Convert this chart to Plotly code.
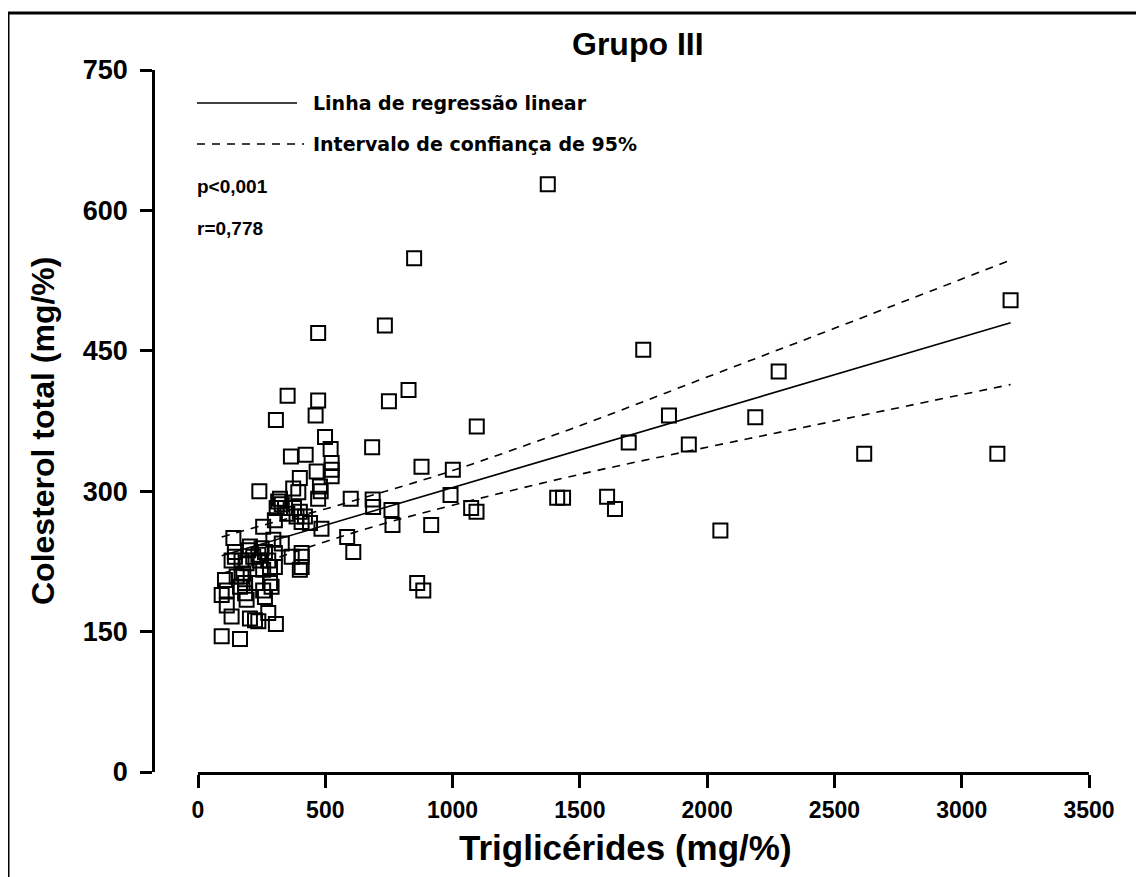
import plotly.graph_objects as go

# ---------------- data ----------------
trig_mg = [1374, 849, 734, 472, 827, 750, 1095, 352, 472, 462,
           306, 684, 499, 521, 365, 423, 525, 525, 525, 878,
           1001, 466, 400, 374, 394, 241, 479, 482, 472, 322,
           600, 686, 688, 760, 764, 992, 1073, 1094, 916, 586,
           610, 861, 885, 1411, 1434, 1749, 2281, 1850, 2189, 1692,
           1928, 2617, 3140, 3192, 1607, 1638, 2052,
           485, 440, 407, 387, 351, 309, 329, 315, 342, 377,
           400, 420, 256, 302, 296, 329, 407, 407, 400, 139,
           145, 132, 204, 217, 263, 276, 283, 302, 243, 256,
           191, 178, 106, 113, 93, 152, 165, 185, 191, 256,
           263, 289, 230, 132, 204, 237, 276, 306, 93, 165,
           113, 224, 171, 185, 283, 171, 237, 302, 145, 197,
           250, 368, 407]

col_mg = [628, 549, 477, 469, 408, 396, 369, 402, 397, 381,
          376, 347, 358, 345, 337, 339, 330, 323, 316, 326,
          323, 321, 314, 303, 299, 300, 305, 300, 292, 292,
          292, 291, 283, 280, 264, 296, 282, 278, 264, 251,
          235, 202, 194, 293, 293, 451, 428, 381, 379, 352,
          350, 340, 340, 504, 294, 281, 258,
          260, 266, 267, 273, 276, 282, 286, 289, 282, 282,
          278, 273, 262, 269, 248, 244, 230, 219, 216, 250,
          235, 226, 241, 230, 235, 226, 219, 234, 226, 216,
          223, 212, 205, 194, 189, 209, 198, 191, 184, 194,
          187, 198, 202, 166, 164, 161, 170, 158, 145, 142,
          178, 162, 209, 202, 202, 226, 232, 219, 230, 237,
          239, 230, 234]

fit_x = [93, 3192]
fit_y = [231, 480]

ci_x = [93, 300, 500, 700, 1000, 1500, 2000, 2500, 3192]
ci_upper = [251, 267, 281, 297, 322, 370, 422, 474, 547]
ci_lower = [212, 228, 246, 263, 285, 318, 347, 375, 414]

x_ticks = [0, 500, 1000, 1500, 2000, 2500, 3000, 3500]
y_ticks = [0, 150, 300, 450, 600, 750]

title_text = "Grupo III"
x_title = "Triglicérides (mg/%)"
y_title = "Colesterol total (mg/%)"
legend_solid = "Linha de regressão linear"
legend_dash = "Intervalo de confiança de 95%"
p_text = "p<0,001"
r_text = "r=0,778"

# ---------------- layout geometry ----------------
OFF = 8                      # page body margin
W, H = 1144 - OFF, 877 - OFF
ML, MT = 153 - OFF, 70 - OFF
PLOT_RIGHT, PLOT_BOTTOM = 1089 - OFF, 772 - OFF
MR, MB = W - PLOT_RIGHT, H - PLOT_BOTTOM
PW = W - ML - MR
PH = H - MT - MB
X_START_PX = 198


def pxx(px):
    return (px - OFF - ML) / PW


def pxy(py):
    return (PLOT_BOTTOM - (py - OFF)) / PH


FONT = "Liberation Sans, Arial, Helvetica, sans-serif"
DASH = "8px,7px"

fig = go.Figure()

fig.add_trace(go.Scatter(
    x=ci_x, y=ci_upper, mode="lines", line=dict(color="black", width=1.6, dash=DASH, shape="spline"),
    hoverinfo="skip"))
fig.add_trace(go.Scatter(
    x=ci_x, y=ci_lower, mode="lines", line=dict(color="black", width=1.6, dash=DASH, shape="spline"),
    hoverinfo="skip"))
fig.add_trace(go.Scatter(
    x=fit_x, y=fit_y, mode="lines", line=dict(color="black", width=1.6), hoverinfo="skip"))
fig.add_trace(go.Scatter(
    x=trig_mg, y=col_mg, mode="markers",
    marker=dict(symbol="square-open", size=14, color="black", line=dict(width=2, color="black"))))

fig.update_layout(
    width=W, height=H, showlegend=False,
    paper_bgcolor="white", plot_bgcolor="white",
    margin=dict(l=ML, r=MR, t=MT, b=MB, autoexpand=False),
    font=dict(family=FONT, color="black"),
    xaxis=dict(
        domain=[pxx(X_START_PX), 1], range=[0, 3500], tickvals=x_ticks,
        showgrid=False, zeroline=False, showline=True, linewidth=3, linecolor="black",
        ticks="outside", ticklen=13, tickwidth=2.5, tickcolor="black",
        tickfont=dict(size=23, family=FONT, weight="bold"), ticklabelstandoff=2),
    yaxis=dict(
        domain=[0, 1], range=[0, 750], tickvals=y_ticks, anchor="free", position=0,
        showgrid=False, zeroline=False, showline=True, linewidth=2.5, linecolor="black",
        ticks="outside", ticklen=12, tickwidth=2.5, tickcolor="black",
        tickfont=dict(size=27, family=FONT, weight="bold"), ticklabelstandoff=7),
)

ann = []
ann.append(dict(text=f"<b>{title_text}</b>", x=pxx(638), y=pxy(44), xref="paper", yref="paper",
                showarrow=False, font=dict(size=32, family=FONT), xanchor="center", yanchor="middle"))
ann.append(dict(text=f"<b>{x_title}</b>", x=pxx(625), y=pxy(847), xref="paper", yref="paper",
                showarrow=False, font=dict(size=35, family=FONT), xanchor="center", yanchor="middle"))
ann.append(dict(text=f"<b>{y_title}</b>", x=pxx(43), y=pxy(431), xref="paper", yref="paper",
                showarrow=False, textangle=-90, font=dict(size=32, family=FONT),
                xanchor="center", yanchor="middle"))
ann.append(dict(text=f"<b>{legend_solid}</b>", x=pxx(311), y=pxy(103), xref="paper", yref="paper",
                showarrow=False, font=dict(size=19, family="DejaVu Sans, sans-serif"),
                xanchor="left", yanchor="middle"))
ann.append(dict(text=f"<b>{legend_dash}</b>", x=pxx(311), y=pxy(144), xref="paper", yref="paper",
                showarrow=False, font=dict(size=19, family="DejaVu Sans, sans-serif"),
                xanchor="left", yanchor="middle"))
ann.append(dict(text=f"<b>{p_text}</b>", x=pxx(195), y=pxy(187), xref="paper", yref="paper",
                showarrow=False, font=dict(size=19, family=FONT), xanchor="left", yanchor="middle"))
ann.append(dict(text=f"<b>{r_text}</b>", x=pxx(195), y=pxy(229), xref="paper", yref="paper",
                showarrow=False, font=dict(size=19, family=FONT), xanchor="left", yanchor="middle"))
fig.update_layout(annotations=ann)

shapes = [
    dict(type="line", xref="paper", yref="paper", x0=pxx(197), x1=pxx(297), y0=pxy(103), y1=pxy(103),
         line=dict(color="black", width=1.6)),
    dict(type="line", xref="paper", yref="paper", x0=pxx(197), x1=pxx(304), y0=pxy(144), y1=pxy(144),
         line=dict(color="black", width=1.6, dash=DASH)),
    dict(type="rect", xref="paper", yref="paper", x0=pxx(8), x1=pxx(1141), y0=pxy(890), y1=pxy(13),
         line=dict(color="black", width=3), fillcolor="rgba(0,0,0,0)"),
]
fig.update_layout(shapes=shapes)

fig.write_html("out.html")
